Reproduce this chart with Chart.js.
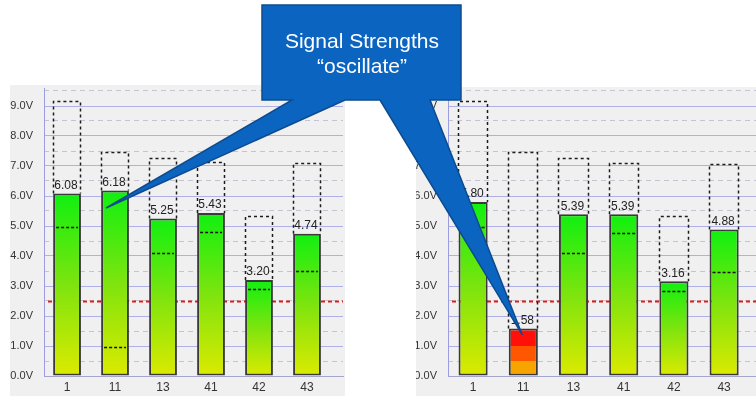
<!DOCTYPE html>
<html><head><meta charset="utf-8">
<script src="https://cdn.jsdelivr.net/npm/chart.js@4.4.1/dist/chart.umd.min.js"></script>
<style>
html,body{margin:0;padding:0;background:#fff;width:756px;height:404px;overflow:hidden;position:relative;font-family:'Liberation Sans',Arial,sans-serif}
#lp{position:absolute;left:10px;top:85px;width:335px;height:311px}
#rp{position:absolute;left:416px;top:87px;width:340px;height:309px;overflow:hidden}
#rc{position:absolute;left:-13px;top:0}
#callout{position:absolute;left:0;top:0;width:756px;height:404px;pointer-events:none}
#ctext{position:absolute;left:262px;width:200px;top:28px;text-align:center;color:#fff;font-size:21px;line-height:25px;pointer-events:none}
</style></head><body>
<div id="lp"><canvas id="lc" width="335" height="311" style="width:335px;height:311px"></canvas></div>
<div id="rp"><canvas id="rc" width="353" height="309" style="width:353px;height:309px"></canvas></div>
<svg id="callout" width="756" height="404" viewBox="0 0 756 404"><path id="cpath" fill="#0b64c0" stroke="#0d4b8e" stroke-width="1.5" stroke-linejoin="miter"/></svg>
<div id="ctext">Signal Strengths<br>“oscillate”</div>
<script>
// ---- data ----
const categories = ['1', '11', '13', '41', '42', '43'];
const leftValues  = [6.08, 6.18, 5.25, 5.43, 3.20, 4.74];
const leftMax     = [9.15, 7.45, 7.27, 7.12, 5.35, 7.09];
const leftMin     = [4.96, 0.97, 4.10, 4.80, 2.90, 3.50];
const rightValues = [5.80, 1.58, 5.39, 5.39, 3.16, 4.88];
const rightMax    = [9.15, 7.45, 7.25, 7.10, 5.35, 7.07];
const rightMin    = [4.97, null, 4.10, 4.76, 2.83, 3.47];
const threshold = 2.5;
const yTicksMax = 9.6;

const FONT = "'Liberation Sans', Arial, sans-serif";

function barFill(c) {
  const chart = c.chart;
  if (!chart.chartArea || c.type !== 'data') return '#80e410';
  const v = c.parsed ? c.parsed.y : c.raw.y;
  const ys = chart.scales.y;
  const top = ys.getPixelForValue(v), base = ys.getPixelForValue(0);
  if (!isFinite(top) || !isFinite(base)) return '#80e410';
  const g = chart.ctx.createLinearGradient(0, base, 0, top);
  if (v < threshold) {
    const a = Math.min(0.5 / v, 1), b = Math.min(1 / v, 1);
    g.addColorStop(0, '#f7a400'); g.addColorStop(a, '#f7a400');
    g.addColorStop(a, '#ff5600'); g.addColorStop(b, '#ff5600');
    g.addColorStop(b, '#ff1008'); g.addColorStop(1, '#ff1008');
  } else {
    g.addColorStop(0, '#dcea00');
    g.addColorStop(0.5, '#7ee40e');
    g.addColorStop(1, '#10f010');
  }
  return g;
}

function decorPlugin(values, mins) {
  return {
    id: 'decor',
    beforeDraw(chart) {
      const ctx = chart.ctx;
      ctx.save(); ctx.fillStyle = '#f0f0f0'; ctx.fillRect(0, 0, chart.width, chart.height); ctx.restore();
    },
    beforeDatasetsDraw(chart) {
      const ctx = chart.ctx, a = chart.chartArea;
      const y = Math.round(chart.scales.y.getPixelForValue(threshold)) + 0.5;
      ctx.save();
      ctx.strokeStyle = '#e01a1a'; ctx.lineWidth = 2; ctx.setLineDash([4, 3]);
      ctx.beginPath(); ctx.moveTo(a.left + 4, y); ctx.lineTo(a.right, y); ctx.stroke();
      // dotted max boxes
      const meta = chart.getDatasetMeta(1);
      ctx.strokeStyle = '#1c1c1c'; ctx.lineWidth = 1.5; ctx.setLineDash([3, 3]);
      meta.data.forEach(el => {
        const l = Math.round(el.x - el.width / 2) + 0.5, r = Math.round(el.x + el.width / 2) - 0.5;
        const t = Math.round(el.y) + 0.5, b = el.base;
        ctx.beginPath(); ctx.moveTo(l, b); ctx.lineTo(l, t); ctx.lineTo(r, t); ctx.lineTo(r, b); ctx.stroke();
      });
      ctx.restore();
    },
    afterDatasetsDraw(chart) {
      const ctx = chart.ctx;
      const meta = chart.getDatasetMeta(0);
      const ys = chart.scales.y;
      ctx.save();
      ctx.strokeStyle = '#111'; ctx.lineWidth = 1.5; ctx.setLineDash([3, 2]);
      meta.data.forEach((el, i) => {
        if (mins[i] == null) return;
        const y = Math.round(ys.getPixelForValue(mins[i])) + 0.5;
        ctx.beginPath(); ctx.moveTo(el.x - el.width / 2 + 3, y); ctx.lineTo(el.x + el.width / 2 - 3, y); ctx.stroke();
      });
      ctx.setLineDash([]);
      ctx.fillStyle = '#222'; ctx.font = '12px ' + FONT; ctx.textAlign = 'center'; ctx.textBaseline = 'bottom';
      meta.data.forEach((el, i) => { ctx.fillText(values[i].toFixed(2), el.x - 1, el.y - 2); });
      ctx.restore();
    }
  };
}

function makeChart(id, values, maxs, mins, xMin, xMax, yWidth, padTop, padRight) {
  return new Chart(document.getElementById(id), {
    data: {
      datasets: [
        { type: 'bar', data: values.map((v, i) => ({ x: i, y: v })), backgroundColor: barFill,
          borderColor: '#3a3a3a', borderWidth: 2, borderSkipped: false,
          barPercentage: 0.58, categoryPercentage: 1, grouped: false, order: 0 },
        { type: 'bar', data: maxs.map((m, i) => ({ x: i, y: [values[i], m] })), backgroundColor: 'rgba(0,0,0,0)',
          borderWidth: 0, barPercentage: 0.6, categoryPercentage: 1, grouped: false, order: 1 }
      ]
    },
    options: {
      responsive: false, animation: false, devicePixelRatio: 1,
      layout: { padding: { top: padTop, right: padRight, left: 0, bottom: 0 } },
      plugins: { legend: { display: false }, tooltip: { enabled: false } },
      scales: {
        x: { type: 'linear', offset: false, min: xMin, max: xMax,
          afterFit: s => { s.height = 20; s.paddingLeft = 0; s.paddingRight = 0; },
          ticks: { stepSize: 1, includeBounds: false, autoSkip: false, maxRotation: 0, padding: 4, color: '#333',
            font: { family: FONT, size: 12 }, callback: v => (categories[v] !== undefined ? categories[v] : '') },
          grid: { display: false, drawTicks: false, offset: false }, border: { color: '#a6a6cc', width: 1 } },
        y: { type: 'linear', min: 0, max: yTicksMax,
          afterFit: s => { s.width = yWidth; s.paddingTop = 0; s.paddingBottom = 0; },
          ticks: { stepSize: 1, includeBounds: false, padding: 11, color: '#333', font: { family: FONT, size: 11 },
            callback: v => v.toFixed(1) + 'V' },
          grid: { color: '#b0b0e8', lineWidth: 1, drawTicks: false }, border: { color: '#9c9ce0', width: 1 } },
        y2: { type: 'linear', position: 'right', min: 0, max: yTicksMax,
          afterFit: s => { s.width = 0; s.paddingTop = 0; s.paddingBottom = 0; },
          ticks: { display: false, stepSize: 0.5, includeBounds: false },
          grid: { drawTicks: false, lineWidth: 1, color: c => (c.tick && Math.abs(c.tick.value % 1) > 0.01) ? '#c4c4d0' : 'rgba(0,0,0,0)' },
          border: { display: false, dash: [5, 4] } }
      }
    },
    plugins: [decorPlugin(values, mins)]
  });
}

const leftChart = makeChart('lc', leftValues, leftMax, leftMin, -0.48, 5.75, 34, 3, 2);
const rightChart = makeChart('rc', rightValues, rightMax, rightMin, -0.5, 5.635, 45, 1, 0);

// callout anchored to the two "11" bars
const lx = 10 + leftChart.scales.x.getPixelForValue(1) - 9;
const ly = 85 + leftChart.scales.y.getPixelForValue(5.6);
const rx = 403 + rightChart.scales.x.getPixelForValue(1) - 1;
const ry = 87 + rightChart.scales.y.getPixelForValue(1.37);
document.getElementById('cpath').setAttribute('d',
  `M262,5 H461 V100 H430 L${rx},${ry} L380,100 H345 L${lx},${ly} L292,100 H262 Z`);
</script>
</body></html>
